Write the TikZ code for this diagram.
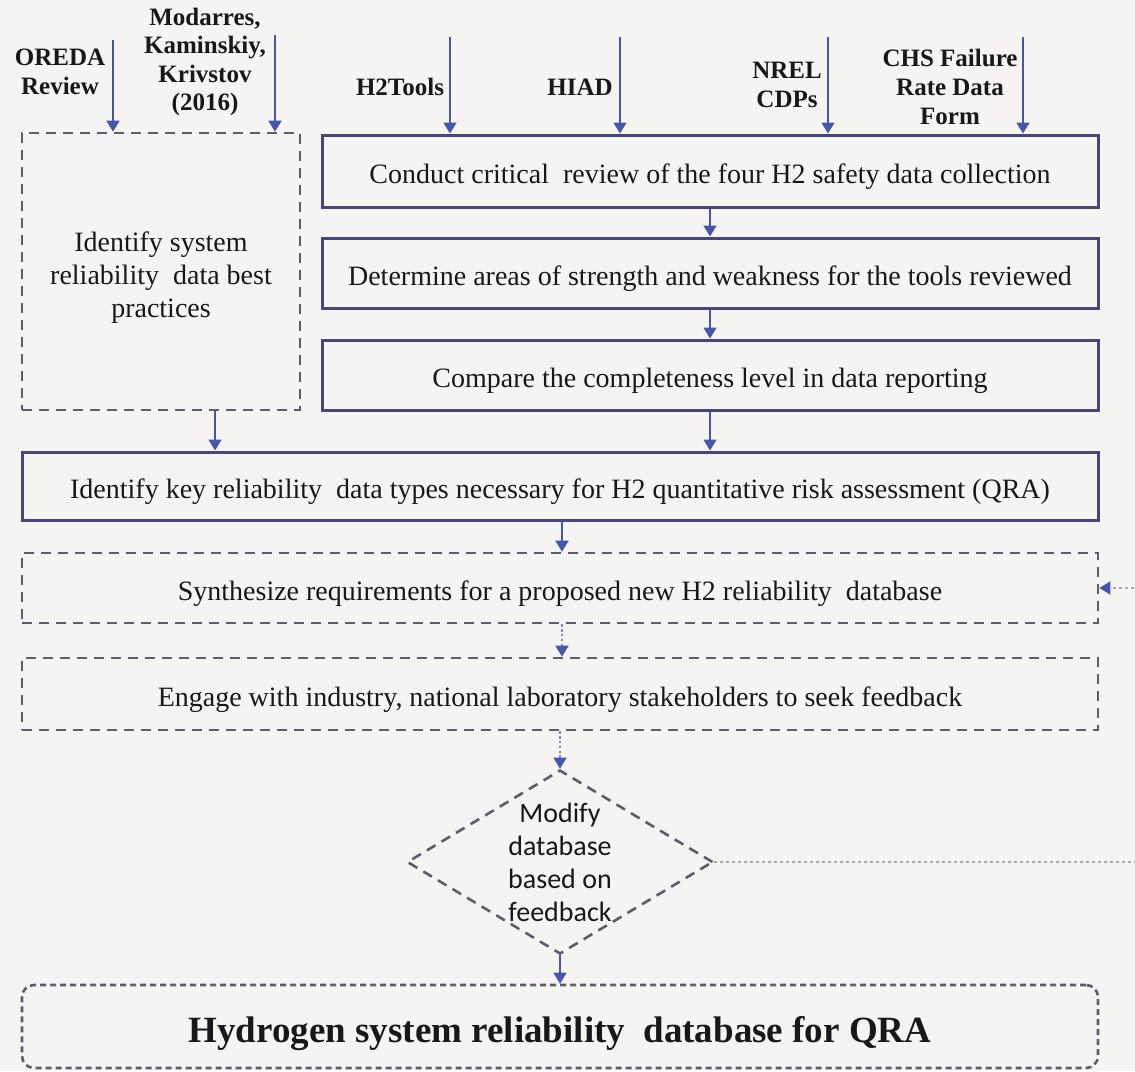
\documentclass[tikz,border=0pt]{standalone}
\usepackage{fontspec}
\setmainfont{Liberation Serif}
\newfontfamily\diasans{Carlito}
\usetikzlibrary{arrows.meta,shapes.geometric}

\definecolor{paper}{RGB}{245,244,242}
\definecolor{boxline}{RGB}{72,70,118}
\definecolor{dashline}{RGB}{92,92,110}
\definecolor{arrowblue}{RGB}{70,86,170}
\definecolor{ink}{RGB}{24,24,26}
\definecolor{fbline}{RGB}{170,170,180}

\tikzset{
  boxtext/.style={font=\fontsize{14}{16.5}\selectfont, text=ink, align=center},
  oneline/.style={text height=12.7pt, text depth=0pt},
  solidbox/.style={draw=boxline, line width=1.5pt, rectangle, inner sep=0pt, boxtext, oneline},
  dashbox/.style={draw=dashline, line width=1.3pt, rectangle, inner sep=0pt,
    dash pattern=on 5pt off 3.5pt, boxtext},
  srclabel/.style={font=\bfseries\fontsize{12.5}{14.3}\selectfont, text=ink, align=center, inner sep=0pt},
  flowarrow/.style={draw=arrowblue, line width=0.8pt,
    -{Triangle[length=5.5pt,width=6.5pt]}},
  dotarrow/.style={draw=arrowblue!70, line width=0.7pt, dash pattern=on 1.2pt off 1.2pt,
    -{Triangle[length=5.5pt,width=6.5pt,color=arrowblue]}},
}

\begin{document}
\begin{tikzpicture}[x=0.5pt,y=-0.5pt]
  % canvas
  \fill[paper] (0,0) rectangle (1135,1071);
  \useasboundingbox (0,0) rectangle (1135,1071);

  % source labels
  \node[srclabel] (oreda) at (60,72) {OREDA\\Review};
  \node[srclabel] (modarres) at (205,62) {Modarres,\\Kaminskiy,\\Krivstov\\(2016)};
  \node[srclabel] (h2tools) at (400,87) {H2Tools};
  \node[srclabel] (hiad) at (580,87) {HIAD};
  \node[srclabel] (nrel) at (787,85) {NREL\\CDPs};
  \node[srclabel] (chs) at (950,87) {CHS Failure\\Rate Data\\Form};

  % left branch
  \node[dashbox, minimum width=139pt, minimum height=138.5pt] (lbox) at (161,271.5) {};
  \node[boxtext, inner sep=0pt] (ltext) at ([yshift=-3pt]lbox.center)
    {Identify system\\reliability \ data best\\practices};

  % right branch
  \node[solidbox, minimum width=388pt, minimum height=36pt] (box1) at (710,171)
    {Conduct critical \ review of the four H2 safety data collection};
  \node[solidbox, minimum width=388pt, minimum height=35pt] (box2) at (710,273)
    {Determine areas of strength and weakness for the tools reviewed};
  \node[solidbox, minimum width=388pt, minimum height=35pt] (box3) at (710,375)
    {Compare the completeness level in data reporting};

  % main column
  \node[solidbox, minimum width=538pt, minimum height=34pt] (box4) at (560,486)
    {Identify key reliability \ data types necessary for H2 quantitative risk assessment (QRA)};
  \node[dashbox, oneline, minimum width=538pt, minimum height=35pt] (box5) at (560,588)
    {Synthesize requirements for a proposed new H2 reliability \ database};
  \node[dashbox, oneline, minimum width=538pt, minimum height=36pt] (box6) at (560,694)
    {Engage with industry, national laboratory stakeholders to seek feedback};

  % decision
  \node[diamond, draw=dashline, line width=1.3pt, dash pattern=on 5pt off 3.5pt,
        minimum width=153pt, minimum height=92pt, inner sep=0pt] (dia) at (560,862) {};
  \node[font=\diasans\fontsize{14}{16.5}\selectfont, text=ink, align=center, inner sep=0pt]
    (diatext) at (dia.center) {Modify\\database\\based on\\feedback};

  % result
  \node[dashbox, rounded corners=6pt, dash pattern=on 3pt off 2pt, line width=1.3pt,
        minimum width=538pt, minimum height=41.5pt,
        text height=15.8pt, text depth=0pt,
        font=\bfseries\fontsize{18.5}{22}\selectfont] (final) at (560,1026.5)
    {Hydrogen system reliability \ database for QRA};

  % source arrows
  \coordinate (sOreda) at (113,40);
  \coordinate (sModarres) at (275,35);
  \coordinate (sH2tools) at (450,37);
  \coordinate (sHiad) at (620,37);
  \coordinate (sNrel) at (828,37);
  \coordinate (sChs) at (1023,37);
  \draw[flowarrow] (sOreda) -- (sOreda |- lbox.north);
  \draw[flowarrow] (sModarres) -- (sModarres |- lbox.north);
  \draw[flowarrow] (sH2tools) -- (sH2tools |- box1.north);
  \draw[flowarrow] (sHiad) -- (sHiad |- box1.north);
  \draw[flowarrow] (sNrel) -- (sNrel |- box1.north);
  \draw[flowarrow] (sChs) -- (sChs |- box1.north);

  % flow arrows
  \draw[flowarrow] (box1.south) -- (box2.north);
  \draw[flowarrow] (box2.south) -- (box3.north);
  \draw[flowarrow] (box3.south) -- (box3.south |- box4.north);
  \draw[flowarrow] ([xshift=27pt]lbox.south) -- ([xshift=27pt]lbox.south |- box4.north);
  \draw[flowarrow] ([xshift=1pt]box4.south) -- ([xshift=1pt]box5.north);
  \draw[dotarrow] ([xshift=1pt]box5.south) -- ([xshift=1pt]box6.north);
  \draw[dotarrow] (box6.south) -- (dia.north);
  \draw[flowarrow] (dia.south) -- (final.north);

  % feedback loop
  \coordinate (loop) at (1150,862);
  \draw[draw=fbline, line width=0.7pt, dash pattern=on 1.5pt off 1.5pt,
        -{Triangle[length=5.5pt,width=6.5pt,color=arrowblue]}]
    (dia.east) -- (loop) |- (box5.east);
\end{tikzpicture}
\end{document}
